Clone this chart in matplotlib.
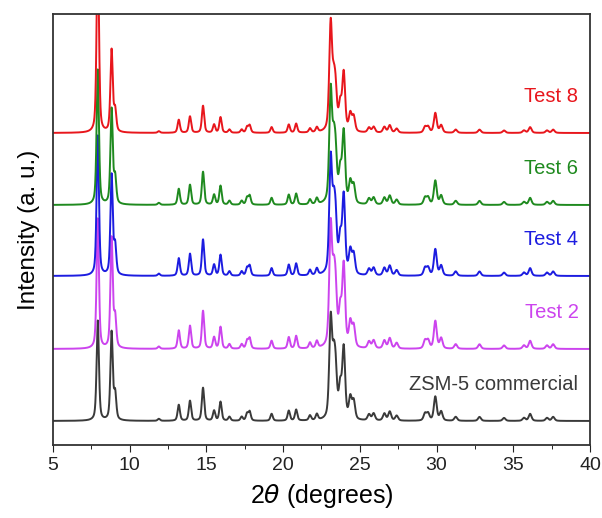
import numpy as np
import matplotlib
matplotlib.use("Agg")
import matplotlib.pyplot as plt
from matplotlib.ticker import MultipleLocator

plt.rcParams['font.family'] = ['Liberation Sans', 'DejaVu Sans']

# peak positions (2theta) and heights
peak_pos = [7.92, 8.82, 9.05, 11.9, 13.2, 13.93, 14.78, 15.5, 15.92, 16.5,
            17.3, 17.65, 17.82, 19.25, 20.37, 20.85, 21.75, 22.2, 23.1, 23.3,
            23.42, 23.72, 23.95, 24.38, 24.6, 25.6, 25.9, 26.6, 26.95, 27.4,
            29.25, 29.45, 29.92, 30.3, 31.25, 32.8, 34.4, 35.7, 36.1, 37.2, 37.6]
base_height = [100, 88, 26, 2, 16, 20, 33, 10, 19, 4,
               4, 7, 9, 7, 10, 11, 5, 6, 95, 45,
               40, 30, 70, 21, 18, 6, 7, 7, 9, 5,
               7, 7, 24, 9, 4, 4, 3, 3, 7, 3, 4]

samples = ["ZSM-5 commercial", "Test 2", "Test 4", "Test 6", "Test 8"]
colors = ["#3a3a3a", "#cc44ee", "#1c1ce0", "#1f8a1f", "#e8161c"]
offsets = [24, 96, 169, 240, 312]
scales = [1.0, 1.15, 1.1, 1.0, 0.82]
# main peaks (7.9, 8.8, 23.1) for each sample
strong_79 = [100, 130, 140, 135, 190]
strong_88 = [88, 110, 100, 95, 82]
strong_231 = [98, 118, 112, 110, 106]

x = np.linspace(5, 40, 3500)


def pattern(heights):
    y = np.zeros_like(x)
    for p, h in zip(peak_pos, heights):
        w = 0.09 if p < 23 else 0.11
        y += h * (0.5 / (1 + ((x - p) / w) ** 2) + 0.5 * np.exp(-((x - p) / w) ** 2 * 0.69))
    return y


fig = plt.figure(figsize=(6.02, 5.18), dpi=100)
ax = fig.add_axes([0.088, 0.141, 0.892, 0.832])

for i, name in enumerate(samples):
    h = [b * scales[i] for b in base_height]
    h[0] = strong_79[i]
    h[1] = strong_88[i]
    h[18] = strong_231[i]
    ax.plot(x, pattern(h) + offsets[i], color=colors[i], lw=1.4)
    ax.text(39.25, offsets[i] + 36, name, color=colors[i], fontsize=14.5,
            ha="right", va="center")

ax.set_xlim(5, 40)
ax.set_ylim(0, 431)
ax.xaxis.set_major_locator(MultipleLocator(5))
ax.xaxis.set_minor_locator(MultipleLocator(2.5))
ax.tick_params(axis="x", which="major", length=5, labelsize=14, colors="#222222")
ax.tick_params(axis="x", which="minor", length=3)
ax.set_yticks([])
for s in ax.spines.values():
    s.set_color("#333333")
    s.set_linewidth(1.3)
ax.set_xlabel(r"2$\theta$ (degrees)", fontsize=18, labelpad=6)
ax.set_ylabel("Intensity (a. u.)", fontsize=17.5, labelpad=9)

fig.savefig("out.png", dpi=100)
